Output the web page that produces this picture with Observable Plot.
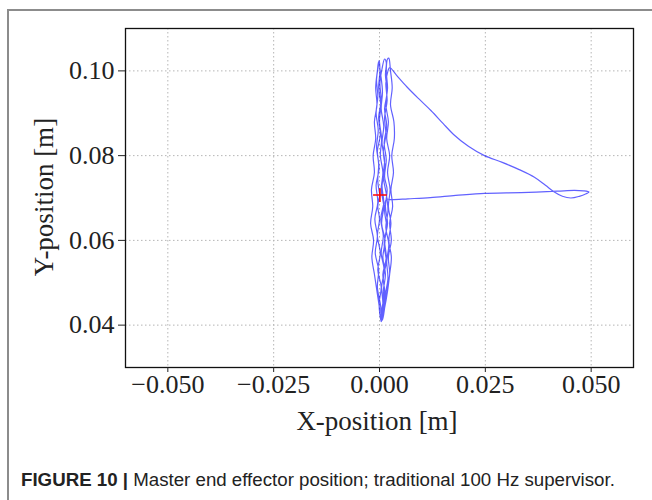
<!DOCTYPE html>
<html>
<head>
<meta charset="utf-8">
<script src="https://cdn.jsdelivr.net/npm/d3@7"></script>
<script src="https://cdn.jsdelivr.net/npm/@observablehq/plot@0.6"></script>
<style>
  html, body { margin: 0; padding: 0; background: #fff; }
  #page { position: relative; width: 652px; height: 500px; overflow: hidden; }
  #frame { position: absolute; left: 7px; top: 9px; width: 700px; height: 560px;
           border-left: 2px solid #8c8c8c; border-top: 2px solid #8c8c8c; box-sizing: border-box; }
  #chart { position: absolute; left: 0; top: 0; }
  #caption { position: absolute; left: 21px; top: 471px; font-family: "Liberation Sans", Arial, sans-serif;
             font-size: 18.7px; line-height: 18.7px; color: #222; white-space: nowrap; }
  #caption b { font-weight: bold; }
</style>
</head>
<body>
<div id="page">
  <div id="frame"></div>
  <div id="chart"></div>
  <div id="caption"><b>FIGURE 10 |</b> Master end effector position; traditional 100 Hz supervisor.</div>
</div>
<script>
// Trajectory of the master end effector (m)
const pathX = [
  0.0001,-0.0004,-0.0002,-0.0007,-0.0003,-0.0008,-0.0004,-0.0007,-0.0003,-0.0001,
  0.0001,-0.0002,0.0003,0.0000,0.0005,0.0002,0.0008,0.0004,0.0010,0.0005,0.0013,0.0008,0.0014,0.0009,0.0011,0.0006,0.0004,
  0.0000,-0.0006,-0.0012,-0.0018,-0.0014,-0.0021,-0.0016,-0.0019,-0.0012,-0.0015,-0.0009,-0.0012,-0.0006,-0.0009,-0.0005,-0.0002,
  0.0003,0.0007,0.0004,0.0010,0.0006,0.0012,0.0009,0.0016,0.0020,0.0015,0.0022,0.0017,0.0020,0.0013,0.0009,0.0005,
  0.0012,0.0019,0.0024,0.0028,0.0022,0.0027,0.0021,0.0025,0.0019,0.0024,0.0017,0.0021,0.0015,0.0019,0.0016,0.0019,0.0022,
  0.0026,0.0030,0.0026,0.0034,0.0035,0.0029,0.0033,0.0027,0.0031,0.0024,0.0028,0.0021,0.0024,0.0016,0.0012,0.0007,
  0.0002,-0.0005,-0.0002,-0.0010,-0.0005,-0.0011,-0.0004,-0.0008,-0.0001,-0.0005,0.0002,-0.0002,0.0004,0.0001,0.0006,0.0012,0.0016,
  0.0014,0.0018,0.0012,0.0017,0.0011,0.0016,0.0012,0.0018,0.0014,0.0019,0.0012,0.0016,0.0008,0.0012,0.0006,0.0003,
  0.0008,0.0005,0.0011,0.0004,0.0009,0.0003,0.0010,0.0006,0.0013,0.0009,0.0015,0.0012,0.0018,0.0015,0.0020,0.0024,
  0.0040,0.0065,0.0095,0.0122,0.0150,0.0175,0.0210,0.0248,0.0290,0.0330,0.0366,0.0392,0.0413,0.0432,0.0452,0.0472,0.0488,0.0495,
  0.0482,0.0460,0.0420,0.0370,0.0300,0.0248,0.0180,0.0120,0.0067,0.0030,0.0016,
  0.0012,0.0017,0.0011,0.0016,0.0009,0.0013,0.0007,0.0004,-0.0001,0.0004,-0.0004,0.0002,-0.0005,0.0000,-0.0004,0.0001
];
const pathY = [
  0.0707,0.0740,0.0780,0.0820,0.0860,0.0900,0.0940,0.0980,0.1010,0.1024,
  0.1000,0.0960,0.0920,0.0880,0.0840,0.0800,0.0760,0.0720,0.0680,0.0640,0.0600,0.0560,0.0520,0.0480,0.0440,0.0415,0.0408,
  0.0440,0.0480,0.0520,0.0560,0.0600,0.0640,0.0680,0.0720,0.0760,0.0800,0.0840,0.0880,0.0920,0.0960,0.1000,0.1022,
  0.0990,0.0950,0.0910,0.0870,0.0830,0.0790,0.0750,0.0710,0.0670,0.0630,0.0590,0.0550,0.0510,0.0470,0.0430,0.0410,
  0.0440,0.0480,0.0520,0.0560,0.0600,0.0640,0.0680,0.0720,0.0760,0.0800,0.0840,0.0880,0.0920,0.0960,0.1000,0.1028,0.1030,
  0.1000,0.0960,0.0920,0.0880,0.0840,0.0800,0.0760,0.0720,0.0680,0.0640,0.0600,0.0560,0.0520,0.0480,0.0440,0.0412,
  0.0450,0.0490,0.0530,0.0570,0.0610,0.0650,0.0690,0.0730,0.0770,0.0810,0.0850,0.0890,0.0930,0.0970,0.1005,0.1028,0.1020,
  0.0990,0.0950,0.0910,0.0870,0.0830,0.0790,0.0750,0.0720,0.0680,0.0640,0.0600,0.0560,0.0520,0.0480,0.0440,0.0412,
  0.0450,0.0490,0.0530,0.0570,0.0610,0.0650,0.0690,0.0730,0.0770,0.0810,0.0850,0.0890,0.0930,0.0970,0.1000,0.1008,
  0.0990,0.0962,0.0932,0.0906,0.0876,0.0850,0.0822,0.0800,0.0784,0.0767,0.0749,0.0730,0.0714,0.0704,0.0700,0.0704,0.0710,0.0714,
  0.0717,0.0718,0.0716,0.0714,0.0712,0.0711,0.0706,0.0701,0.0698,0.0696,0.0696,
  0.0670,0.0630,0.0590,0.0550,0.0510,0.0470,0.0430,0.0409,0.0450,0.0490,0.0530,0.0570,0.0610,0.0650,0.0680,0.0707
];
// Start / reference marker
const markerX = [0.0001];
const markerY = [0.0707];

const xTicks = [-0.05, -0.025, 0, 0.025, 0.05];
const yTicks = [0.04, 0.06, 0.08, 0.10];
const xDomain = [-0.06, 0.06];
const yDomain = [0.03, 0.11];
const xLabel = "X-position [m]";
const yLabel = "Y-position [m]";

const idx = d3.range(pathX.length);
const midx = d3.range(markerX.length);

const W = 652, H = 445;
const mL = 125, mR = 19, mT = 28, mB = H - 367;

const plot = Plot.plot({
  width: W,
  height: H,
  marginLeft: mL,
  marginRight: mR,
  marginTop: mT,
  marginBottom: mB,
  style: { fontFamily: "'Liberation Serif', 'Times New Roman', serif", fontSize: "26px", color: "#222", background: "transparent", overflow: "visible" },
  x: { domain: xDomain },
  y: { domain: yDomain },
  marks: [
    Plot.gridX(xTicks, { stroke: "#b5b5b5", strokeOpacity: 1, strokeDasharray: "1.5,2.5", strokeWidth: 1 }),
    Plot.gridY(yTicks, { stroke: "#b5b5b5", strokeOpacity: 1, strokeDasharray: "1.5,2.5", strokeWidth: 1 }),
    Plot.line(idx, { x: i => pathX[i], y: i => pathY[i], stroke: "#0000ff", strokeOpacity: 0.62, strokeWidth: 1.2, curve: "catmull-rom" }),
    Plot.dot(midx, { x: i => markerX[i], y: i => markerY[i], symbol: "plus", r: 4.5, stroke: "red", strokeWidth: 1.6 }),
    Plot.frame({ stroke: "#111", strokeWidth: 1.3 }),
    Plot.axisX(xTicks, { tickFormat: d3.format(".3f"), tickSize: 5, tickPadding: 2, label: null, fontSize: 26 }),
    Plot.axisY(yTicks, { tickFormat: d3.format(".2f"), tickSize: 7, tickPadding: 4, label: null, fontSize: 26 })
  ]
});

const svg = d3.select(plot);
svg.append("text")
  .attr("x", 377).attr("y", 430)
  .attr("text-anchor", "middle")
  .attr("font-size", 27)
  .attr("fill", "#222")
  .text(xLabel);
svg.append("text")
  .attr("transform", "translate(53,197) rotate(-90)")
  .attr("text-anchor", "middle")
  .attr("font-size", 27)
  .attr("fill", "#222")
  .text(yLabel);

document.getElementById("chart").appendChild(plot);
</script>
</body>
</html>
